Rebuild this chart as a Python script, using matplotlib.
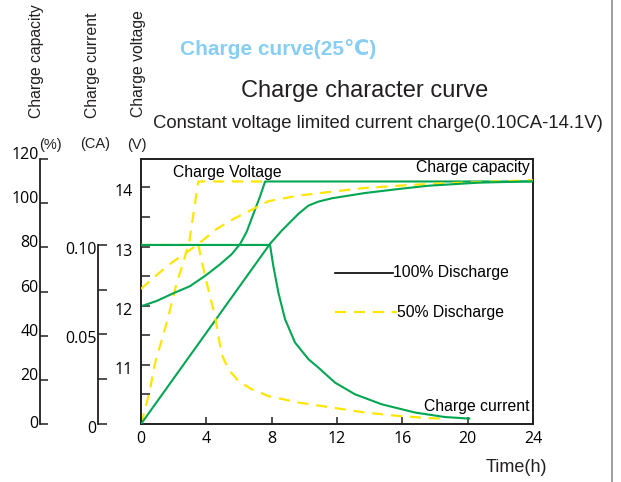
import matplotlib.pyplot as plt
from matplotlib.lines import Line2D
from matplotlib.transforms import ScaledTranslation

W, H = 621, 482
plt.rcParams['font.family'] = ['Liberation Sans', 'DejaVu Sans']

GREEN = '#00a651'
YELLOW = '#ffe600'
INK = '#231f20'

# axis ticks
time_ticks = [0, 4, 8, 12, 16, 20, 24]
volt_ticks = [10.5, 11, 11.5, 12, 12.5, 13, 13.5, 14]
volt_labels = ["", "11", "", "12", "", "13", "", "14"]
cap_ticks = [0, 20, 40, 60, 80, 100, 120]
cap_labels = ["0", "20", "40", "60", "80", "100", "120"]
cur_ticks = [0, 0.025, 0.05, 0.075, 0.10]
cur_labels = ["0", "", "0.05", "", "0.10"]

# 100% discharge (time h -> value)
v100_t = [0, 0.96, 1.98, 3.0, 4.0, 4.84, 5.55, 6.06, 6.47, 6.88, 7.29, 7.6,
          24]
v100 = [11.99, 12.08, 12.21, 12.33, 12.52, 12.70, 12.87, 13.04, 13.25, 13.55,
        13.85, 14.1, 14.1]
i100_t = [0, 7.9, 8.1, 8.41, 8.82, 9.43, 10.25, 10.86, 11.88, 13.1, 14.74,
          16.78, 18.6, 20.1]
i100 = [0.10, 0.10, 0.0883, 0.0734, 0.0585, 0.0455, 0.0362, 0.0315, 0.0231,
        0.0166, 0.0110, 0.0064, 0.0039, 0.003]
c100_t = [0, 7.9, 8.62, 9.63, 10.25, 10.86, 11.68, 13.72, 15.76, 17.6, 20.7,
          24]
c100 = [0, 81.6, 87.6, 95.1, 98.9, 100.7, 102.2, 104.6, 106.4, 107.9, 109.3,
        109.9]

# 50% discharge
v50_t = [0, 0.24, 0.55, 0.86, 1.27, 1.67, 1.88, 2.19, 2.59, 2.96, 3.1, 3.31,
         3.51, 7.6]
v50 = [10.0, 10.24, 10.58, 11.03, 11.42, 11.81, 12.05, 12.39, 12.73, 13.09,
       13.35, 13.74, 14.1, 14.1]
i50_t = [0, 3.51, 3.61, 3.92, 4.22, 4.53, 4.74, 4.94, 5.35, 5.96, 6.78, 7.8,
         9.63, 11.68, 13.72, 15.76, 17.8, 18.3]
i50 = [0.10, 0.10, 0.0958, 0.0827, 0.0715, 0.0603, 0.0492, 0.0389, 0.0306,
       0.024, 0.0194, 0.0156, 0.012, 0.0092, 0.0064, 0.0045, 0.0032, 0.003]
c50_t = [0, 1.16, 1.78, 3.51, 4.63, 5.65, 6.67, 7.8, 9.63, 11.68, 13.72,
         15.76, 17.6, 24]
c50 = [61.2, 68.7, 72.5, 81.5, 88.3, 92.8, 96.6, 100.9, 103.4, 105.2, 106.9,
       107.9, 108.7, 110.4]

fig = plt.figure(figsize=(W / 100, H / 100), dpi=100)
pos = [141 / W, (H - 424) / H, 392 / W, 265 / H]
down3 = ScaledTranslation(0, -3 / 100, fig.dpi_scale_trans)


def px(x, y):
    # pixel -> figure fraction
    return x / W, 1 - y / H


# voltage axes (main box)
ax = fig.add_axes(pos)
ax.set_xlim(0, 24)
ax.set_ylim(10, 14.48)
for s in ax.spines.values():
    s.set_linewidth(1.4)
    s.set_color(INK)
ax.set_xticks(time_ticks)
ax.set_yticks(volt_ticks)
ax.set_yticklabels(volt_labels)
ax.tick_params(direction='in', length=6.5, width=1.1, color=INK,
               labelsize=11.5, labelfontfamily='Open Sans')
ax.tick_params(axis='y', pad=6)
ax.tick_params(axis='x', length=5, pad=5)
ax.patch.set_visible(False)
for lab in ax.get_yticklabels():
    lab.set_transform(lab.get_transform() + down3)

# capacity axes
ax_cap = fig.add_axes(pos, sharex=ax)
ax_cap.patch.set_visible(False)
for k in ['top', 'right', 'bottom']:
    ax_cap.spines[k].set_visible(False)
ax_cap.spines['left'].set_position(('axes', (40 - 141) / 392))
ax_cap.spines['left'].set_linewidth(1.3)
ax_cap.spines['left'].set_color(INK)
ax_cap.set_ylim(0, 120)
ax_cap.set_yticks(cap_ticks)
ax_cap.set_yticklabels(cap_labels, va='baseline')
ax_cap.get_yticklabels()[0].set_va('center')
ax_cap.tick_params(axis='y', direction='in', length=6, width=1.1, color=INK,
                   pad=1, labelsize=11.5, labelfontfamily='Open Sans')
ax_cap.tick_params(axis='x', bottom=False, labelbottom=False)

# current axes
ax_cur = fig.add_axes(pos, sharex=ax)
ax_cur.patch.set_visible(False)
for k in ['top', 'right', 'bottom']:
    ax_cur.spines[k].set_visible(False)
ax_cur.spines['left'].set_position(('axes', (98 - 141) / 392))
ax_cur.spines['left'].set_bounds(0, 0.10)
ax_cur.spines['left'].set_linewidth(1.3)
ax_cur.spines['left'].set_color(INK)
ax_cur.set_ylim(0, 0.148)
ax_cur.set_yticks(cur_ticks)
ax_cur.set_yticklabels(cur_labels)
ax_cur.tick_params(axis='y', direction='in', length=6.5, width=1.1, color=INK,
                   pad=1, labelsize=11.5, labelfontfamily='Open Sans')
ax_cur.tick_params(axis='x', bottom=False, labelbottom=False)
for lab in ax_cur.get_yticklabels():
    lab.set_transform(lab.get_transform() + down3)

# curves
dash = (0, (5, 3.5))
ax_cur.plot(i50_t, i50, color=YELLOW, lw=1.6, ls=dash, zorder=1)
ax.plot(v50_t, v50, color=YELLOW, lw=1.6, ls=dash, zorder=1)
ax_cap.plot(c50_t, c50, color=YELLOW, lw=1.6, ls=dash, zorder=1)
ax.plot(v100_t, v100, color=GREEN, lw=1.5, zorder=2)
ax_cur.plot(i100_t, i100, color=GREEN, lw=1.5, zorder=2)
ax_cap.plot(c100_t, c100, color=GREEN, lw=1.5, zorder=2)


def axp(x, y):
    # pixel -> main axes fraction
    return (x - 141) / 392, (424 - y) / 265


# legend samples
x0, y0 = axp(335, 272.7)
x1, _ = axp(393, 272.7)
ax.plot([x0, x1], [y0, y0], color='black', lw=1.2, transform=ax.transAxes,
        clip_on=False)
x0, y0 = axp(335, 312.3)
x1, _ = axp(397, 312.3)
ax.plot([x0, x1], [y0, y0], color=YELLOW, lw=1.6, ls=dash,
        transform=ax.transAxes, clip_on=False)
ax.text(*axp(393, 272), "100% Discharge", transform=ax.transAxes,
        ha='left', va='center', fontsize=11.3)
ax.text(*axp(397, 312), "50% Discharge", transform=ax.transAxes,
        ha='left', va='center', fontsize=11.3)

# curve annotations
ax.text(*axp(227, 173), "Charge Voltage", transform=ax.transAxes,
        ha='center', va='center', fontsize=11.3)
ax.text(*axp(530, 168), "Charge capacity", transform=ax.transAxes,
        ha='right', va='center', fontsize=11.3)
ax.text(*axp(530, 406), "Charge current", transform=ax.transAxes,
        ha='right', va='center', fontsize=11.3)

# titles
fig.text(*px(278, 49), "Charge curve(25\u2103)", ha='center', va='center',
         fontsize=15, fontweight='bold', color='#87cef5')
fig.text(*px(365, 91), "Charge character curve", ha='center', va='center',
         fontsize=17, color=INK)
fig.text(*px(378, 124), "Constant voltage limited current charge(0.10CA-14.1V)",
         ha='center', va='center', fontsize=13.3, color=INK)

# axis names and units
fig.text(*px(37, 118), "Charge capacity", rotation=90, ha='center',
         va='bottom', fontsize=11.3, color=INK)
fig.text(*px(93, 118), "Charge current", rotation=90, ha='center',
         va='bottom', fontsize=11.3, color=INK)
fig.text(*px(139, 117), "Charge voltage", rotation=90, ha='center',
         va='bottom', fontsize=11.3, color=INK)
fig.text(*px(50, 145), "(%)", ha='center', va='center', fontsize=10.5,
         color=INK)
fig.text(*px(95, 144), "(CA)", ha='center', va='center', fontsize=10.5,
         color=INK)
fig.text(*px(137, 145), "(V)", ha='center', va='center', fontsize=10.5,
         color=INK)
fig.text(*px(516, 467), "Time(h)", ha='center', va='center', fontsize=13,
         color=INK)

# page edge line on the right
fig.add_artist(Line2D([611.5 / W, 611.5 / W], [0, 1], color='#8c8c8c',
                      lw=1.2))

fig.savefig("out.png", dpi=100)
